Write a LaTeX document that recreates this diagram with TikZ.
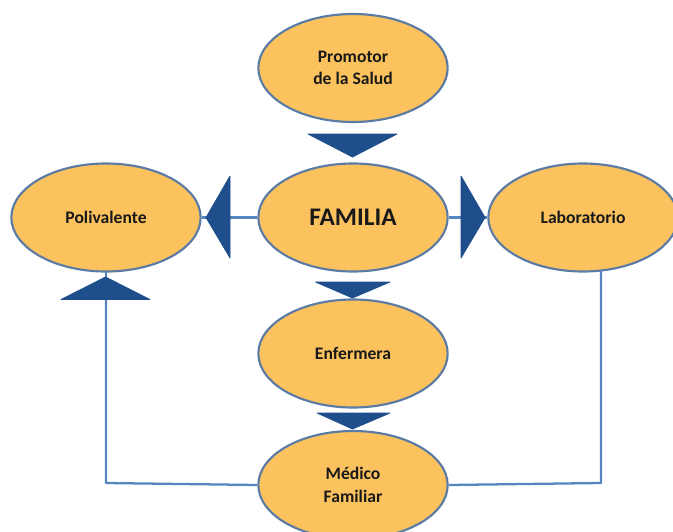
\documentclass[tikz,border=0pt]{standalone}
\usepackage{fontspec}
\setmainfont{Carlito}
\definecolor{fillor}{HTML}{FBC25E}
\definecolor{edgeb}{HTML}{5B7BA5}
\definecolor{linkb}{HTML}{5585C0}
\definecolor{tridark}{HTML}{1F4E8C}
\tikzset{x=0.75pt,y=-0.75pt,
 oval/.style={ellipse,draw=edgeb,fill=fillor,line width=1.6pt,minimum width=142pt,minimum height=81pt,inner sep=0pt,align=center,font=\bfseries\fontsize{13.2}{17}\selectfont,text=black!90},
 link/.style={draw=linkb,line width=1.7pt,line join=round},
 tri/.style={fill=tridark,draw=tridark,line width=.6pt,line join=round}}
\usetikzlibrary{shapes.geometric}
\begin{document}
\begin{tikzpicture}
\useasboundingbox (0,0) rectangle (673,531);
\clip (0,0) rectangle (673,531);
\node[oval] (promotor) at (353,68) {Promotor\\de la Salud};
\node[oval] (poli) at (106,217.5) {Polivalente};
\node[oval,font=\bfseries\fontsize{19}{22}\selectfont] (familia) at (353,217.5) {FAMILIA};
\node[oval] (lab) at (583,217.5) {Laboratorio};
\node[oval] (enf) at (353,353.5) {Enfermera};
\node[oval] (medico) at (353,485) {Médico\\Familiar};
\coordinate (lcorner) at (106,483);
\coordinate (rcorner) at (601,483);
\coordinate (polibase) at (106,300);
\coordinate (labbase) at (601,270);
\draw[link] (familia.west) -- (poli.east);
\draw[link] (familia.east) -- (lab.west);
\draw[link] (medico.west) -- (lcorner) -- (polibase);
\draw[link] (106,272) -- (106,278);
\draw[link] (medico.east) -- (rcorner) -- (labbase);
\draw[tri] (308,134) -- (397,134) -- (352.5,157) -- cycle;
\draw[tri] (230,176) -- (230,258) -- (206,217.5) -- cycle;
\draw[tri] (461,176) -- (461,258) -- (485,217.5) -- cycle;
\draw[tri] (315.5,282) -- (390,282) -- (352.5,298) -- cycle;
\draw[tri] (317,413) -- (390,413) -- (352.5,429) -- cycle;
\draw[tri] (61,299.5) -- (150,299.5) -- (105.5,277) -- cycle;
\end{tikzpicture}
\end{document}
